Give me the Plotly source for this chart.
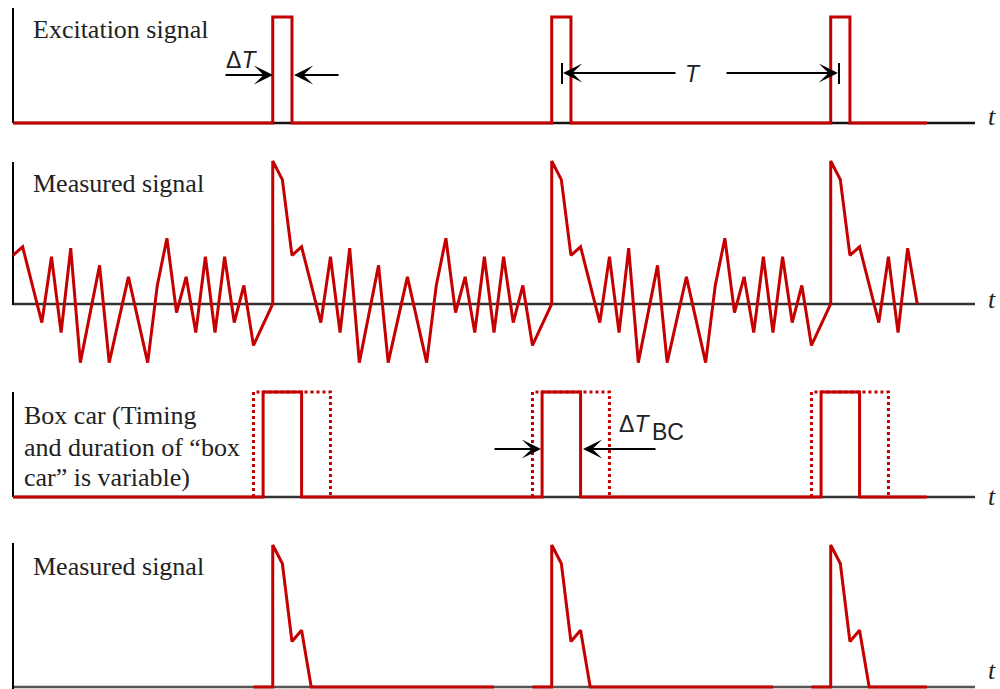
import plotly.graph_objects as go

W, H = 1000, 689
RED = "#C40000"

# ---------------- data (time in sample units; one period T = 29 units) ----------------
# Panel 1: excitation pulses
exc_t = [0, 27, 27, 29, 29, 56, 56, 58, 58, 85, 85, 87, 87, 95]
exc_v = [0, 0, 1, 1, 0, 0, 1, 1, 0, 0, 1, 1, 0, 0]

# Panel 2: measured (noisy) signal
meas_t = [0, 1, 3, 4, 5, 6, 7, 9, 10, 12, 14, 15, 16, 17, 18, 19, 20, 21, 22, 23, 24, 25, 27,
          27, 28, 29, 30, 32, 33, 34, 35, 36, 38, 39, 41, 43, 44, 45, 46, 47, 48, 49, 50, 51, 52, 53, 54, 56,
          56, 57, 58, 59, 61, 62, 63, 64, 65, 67, 68, 70, 72, 73, 74, 75, 76, 77, 78, 79, 80, 81, 82, 83, 85,
          85, 86, 87, 88, 90, 91, 92, 93, 94]
meas_v = [3.4, 4.0, -1.3, 3.3, -2.0, 3.9, -4.1, 2.7, -4.1, 1.9, -4.1, 1.3, 4.6, -0.6, 1.9, -2.0, 3.3, -2.0, 3.3, -1.3, 1.3, -2.9, 0,
          10, 8.7, 3.4, 4.0, -1.3, 3.3, -2.0, 3.9, -4.1, 2.7, -4.1, 1.9, -4.1, 1.3, 4.6, -0.6, 1.9, -2.0, 3.3, -2.0, 3.3, -1.3, 1.3, -2.9, 0,
          10, 8.7, 3.4, 4.0, -1.3, 3.3, -2.0, 3.9, -4.1, 2.7, -4.1, 1.9, -4.1, 1.3, 4.6, -0.6, 1.9, -2.0, 3.3, -2.0, 3.3, -1.3, 1.3, -2.9, 0,
          10, 8.7, 3.4, 4.0, -1.3, 3.3, -2.0, 3.9, 0]

# Panel 3: box car gate (solid) and its variable extent (dotted)
box_t = [0, 26, 26, 30, 30, 55, 55, 59, 59, 84, 84, 88, 88, 95]
box_v = [0, 0, 1, 1, 0, 0, 1, 1, 0, 0, 1, 1, 0, 0]
boxvar_t = [25, 25, 33, 33, None, 54, 54, 62, 62, None, 83, 83, 91, 91]
boxvar_v = [0, 1, 1, 0, None, 0, 1, 1, 0, None, 0, 1, 1, 0]

# Panel 4: gated measured signal
gated_t = [25, 27, 27, 28, 29, 30, 31, 50, None,
           54, 56, 56, 57, 58, 59, 60, 79, None,
           83, 85, 85, 86, 87, 88, 89, 95]
gated_v = [0, 0, 10, 8.7, 3.2, 4.0, 0, 0, None,
           0, 0, 10, 8.7, 3.2, 4.0, 0, 0, None,
           0, 0, 10, 8.7, 3.2, 4.0, 0, 0]

AXIS_T = [0, 100]

# ---------------- layout geometry ----------------
PX_PER_T = 9.62
X0_PX = 13
# panel: (domain top px, domain bottom px, baseline px, px per value unit)
panels = [
    (0, 136, 123, 106.0),
    (140, 378, 304, 14.3),
    (380, 521, 497, 105.0),
    (525, 689, 687, 14.2),
]


def val(i, px):
    top, bot, base, unit = panels[i]
    return (base - px) / unit


def PX(x):
    return x / W


def PY(y):
    return 1 - y / H


fig = go.Figure()
yaxes = ["y", "y2", "y3", "y4"]

# black axes (drawn first, below red)
axis_tops = [8, 162, 392, 543]
axis_bottoms = [123, 305, 497, 689]
base_cols = ["#111", "#333", "#333", "#555"]
for i, ya in enumerate(yaxes):
    fig.add_trace(go.Scatter(x=AXIS_T, y=[0, 0], xaxis="x", yaxis=ya, mode="lines",
                             line=dict(color=base_cols[i], width=2.5), hoverinfo="skip"))
    fig.add_trace(go.Scatter(x=[0, 0], y=[val(i, axis_bottoms[i]), val(i, axis_tops[i])],
                             xaxis="x", yaxis=ya, mode="lines",
                             line=dict(color="#000", width=2), hoverinfo="skip"))

fig.add_trace(go.Scatter(x=exc_t, y=exc_v, yaxis="y", mode="lines",
                         line=dict(color=RED, width=3)))
fig.add_trace(go.Scatter(x=meas_t, y=meas_v, yaxis="y2", mode="lines",
                         line=dict(color=RED, width=3)))
fig.add_trace(go.Scatter(x=boxvar_t, y=boxvar_v, yaxis="y3", mode="lines",
                         line=dict(color=RED, width=3, dash="dot"), connectgaps=False))
fig.add_trace(go.Scatter(x=box_t, y=box_v, yaxis="y3", mode="lines",
                         line=dict(color=RED, width=3)))
fig.add_trace(go.Scatter(x=gated_t, y=gated_v, yaxis="y4", mode="lines",
                         line=dict(color=RED, width=3), connectgaps=False))

layout = dict(
    width=W, height=H, margin=dict(l=0, r=0, t=0, b=0),
    paper_bgcolor="white", plot_bgcolor="white", showlegend=False,
    xaxis=dict(range=[-X0_PX / PX_PER_T, (W - X0_PX) / PX_PER_T], visible=False, domain=[0, 1]),
)
for i, ya in enumerate(yaxes):
    top, bot, base, unit = panels[i]
    key = "yaxis" if i == 0 else "yaxis%d" % (i + 1)
    layout[key] = dict(domain=[1 - bot / H, 1 - top / H],
                       range=[-(bot - base) / unit, (base - top) / unit],
                       visible=False, anchor="x", fixedrange=True)
fig.update_layout(**layout)

SERIF = "Liberation Serif"
SANS = "Liberation Sans"


def text(x, y, s, size=26, family=SERIF, anchor="left"):
    fig.add_annotation(x=PX(x), y=PY(y), xref="paper", yref="paper", text=s,
                       showarrow=False, xanchor=anchor, yanchor="middle",
                       font=dict(family=family, size=size, color="#222"))


text(31, 29, "Excitation signal")
text(31, 183, "Measured signal")
text(22, 415, "Box car (Timing")
text(22, 447, "and duration of \u201cbox")
text(22, 477, "car\u201d is variable)")
text(31, 566, "Measured signal")

# t labels at the right
for ty in [116, 299, 496, 670]:
    text(986, ty, "<i>t</i>", size=26, family=SERIF)

# dimension labels
text(241, 60, "\u0394<i>T</i>", size=23, family=SANS, anchor="center")
text(693, 74, "<i>T</i>", size=23, family=SANS, anchor="center")
text(634, 424, "\u0394<i>T</i>", size=23, family=SANS, anchor="center")
text(668, 432, "BC", size=23, family=SANS, anchor="center")


def arrow(x_tail, x_head, y):
    fig.add_annotation(x=PX(x_head), y=PY(y), xref="paper", yref="paper",
                       ax=x_tail - x_head, ay=0, axref="pixel", ayref="pixel",
                       text="", showarrow=True, arrowhead=3, arrowsize=1.6,
                       arrowwidth=2, arrowcolor="#000", standoff=0)


arrow(224, 273, 75)
arrow(340, 294, 75)
arrow(677, 563, 73)
arrow(725, 838, 73)
arrow(493, 541, 449)
arrow(657, 583, 449)

# end bars of the period marker
for bx in [562, 839]:
    fig.add_shape(type="line", xref="paper", yref="paper", x0=PX(bx), x1=PX(bx),
                  y0=PY(63), y1=PY(84), line=dict(color="#000", width=2))

fig.write_html("out.html", config={"displayModeBar": False, "staticPlot": True},
               post_script="document.body.style.margin='0px';document.body.style.overflow='hidden';")
